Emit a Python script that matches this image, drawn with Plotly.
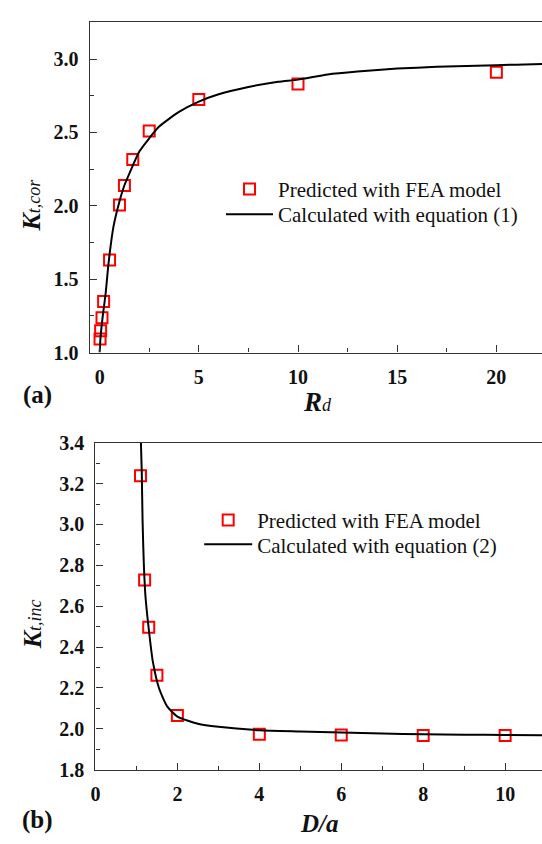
import plotly.graph_objects as go

# ---------------- Panel (a) data ----------------
rd_fea = [0.02, 0.05, 0.12, 0.2, 0.5, 1.0, 1.25, 1.67, 2.5, 5.0, 10.0, 20.0]
kcor_fea = [1.093, 1.149, 1.237, 1.348, 1.631, 2.005, 2.138, 2.315, 2.51, 2.725, 2.83, 2.91]

rd_eq = [0.0, 0.05, 0.15, 0.3, 0.45, 0.7, 1.0, 1.25, 1.5, 2.0, 2.5, 3.0, 4.0, 5.0,
         6.0, 7.5, 9.0, 10.0, 11.5, 13.0, 15.0, 17.0, 19.0, 21.0, 22.5]
kcor_eq = [1.0, 1.11, 1.24, 1.40, 1.61, 1.86, 2.03, 2.14, 2.22, 2.37, 2.46, 2.54, 2.64, 2.71,
           2.76, 2.81, 2.845, 2.86, 2.895, 2.915, 2.935, 2.947, 2.955, 2.962, 2.968]

# ---------------- Panel (b) data ----------------
da_fea = [1.1, 1.2, 1.3, 1.5, 2.0, 4.0, 6.0, 8.0, 10.0]
kinc_fea = [3.238, 2.728, 2.497, 2.262, 2.065, 1.973, 1.970, 1.967, 1.967]

da_eq = [1.11, 1.13, 1.15, 1.18, 1.22, 1.3, 1.4, 1.55, 1.75, 2.0, 2.5, 3.0, 4.0, 5.0,
         6.0, 7.0, 8.0, 9.0, 10.0, 11.0]
kinc_eq = [3.40, 3.26, 3.02, 2.81, 2.65, 2.49, 2.33, 2.20, 2.11, 2.06, 2.025, 2.01, 1.993, 1.987,
           1.982, 1.977, 1.973, 1.971, 1.970, 1.969]

legend_fea = "Predicted with FEA model"
legend_eq_a = "Calculated with equation (1)"
legend_eq_b = "Calculated with equation (2)"

W, H = 542, 844
SERIF = "Liberation Serif, Times New Roman, serif"
AX = "#333333"
TXT = "#111111"

fig = go.Figure()

marker_style = dict(symbol="square-open", size=11, color="#ff0000", line=dict(width=2, color="#ff0000"))
line_style = dict(color="black", width=2, shape="spline", smoothing=0.6)

fig.add_trace(go.Scatter(x=rd_fea, y=kcor_fea, mode="markers", marker=marker_style,
                         name=legend_fea, xaxis="x", yaxis="y", legend="legend"))
fig.add_trace(go.Scatter(x=rd_eq, y=kcor_eq, mode="lines", line=line_style,
                         name=legend_eq_a, xaxis="x", yaxis="y", legend="legend2"))
fig.add_trace(go.Scatter(x=da_fea, y=kinc_fea, mode="markers", marker=marker_style,
                         name=legend_fea, xaxis="x2", yaxis="y2", legend="legend3"))
fig.add_trace(go.Scatter(x=da_eq, y=kinc_eq, mode="lines", line=line_style,
                         name=legend_eq_b, xaxis="x2", yaxis="y2", legend="legend4"))

tickfont = dict(family=SERIF, size=20, color=TXT, weight="bold")

def axis_common():
    return dict(showline=True, linecolor=AX, linewidth=1.3, ticks="inside", ticklen=7,
                tickwidth=1.3, tickcolor=AX, tickfont=tickfont, showgrid=False, zeroline=False,
                ticklabelstandoff=6)

px = lambda v: v / W
py = lambda v: (H - v) / H

def leg(xp, yp, iw):
    return dict(x=px(xp), y=py(yp), xanchor="left", yanchor="middle", bgcolor="rgba(0,0,0,0)",
                font=dict(family=SERIF, size=21, color=TXT), itemwidth=iw)

fig.update_layout(
    width=W, height=H,
    margin=dict(l=0, r=0, t=0, b=0),
    paper_bgcolor="white", plot_bgcolor="white",
    xaxis=dict(domain=[px(85.5), 1.0], range=[-0.5, 22.3], dtick=5, anchor="y", mirror=True,
               minor=dict(dtick=2.5, ticks="inside", ticklen=4, tickwidth=1.3, tickcolor=AX),
               **axis_common()),
    yaxis=dict(domain=[py(350.7), py(11.7)], range=[1.0, 3.25], dtick=0.5, tickformat=".1f", anchor="x",
               minor=dict(dtick=0.25, ticks="inside", ticklen=4, tickwidth=1.3, tickcolor=AX),
               **axis_common()),
    xaxis2=dict(domain=[px(91.3), 1.0], range=[0, 10.9], dtick=2, anchor="y2", mirror=True,
                minor=dict(dtick=1, ticks="inside", ticklen=4, tickwidth=1.3, tickcolor=AX),
                **axis_common()),
    yaxis2=dict(domain=[py(779), py(443.3)], range=[1.8, 3.4], dtick=0.2, tickformat=".1f", anchor="x2",
                minor=dict(dtick=0.1, ticks="inside", ticklen=4, tickwidth=1.3, tickcolor=AX),
                **axis_common()),
    legend=leg(218, 183, 47),
    legend2=leg(218, 209, 47),
    legend3=leg(196, 523, 48),
    legend4=leg(196, 548, 48),
    showlegend=True,
)

ann = []
ann.append(dict(text="<b><i>K</i></b><span style='font-size:18px'><i>t,cor</i></span>", x=px(27), y=py(199),
                textangle=-90, font=dict(family=SERIF, size=26, color=TXT)))
ann.append(dict(text="<b><i>R</i></b><span style='font-size:18px'><i>d</i></span>", x=px(315), y=py(401),
                font=dict(family=SERIF, size=27, color=TXT)))
ann.append(dict(text="<b><i>K</i></b><span style='font-size:18px'><i>t,inc</i></span>", x=px(28), y=py(630),
                textangle=-90, font=dict(family=SERIF, size=26, color=TXT)))
ann.append(dict(text="<b><i>D/a</i></b>", x=px(317.5), y=py(834),
                font=dict(family=SERIF, size=25, color=TXT)))
ann.append(dict(text="<b>(a)</b>", x=px(33), y=py(394), font=dict(family=SERIF, size=25, color=TXT)))
ann.append(dict(text="<b>(b)</b>", x=px(33.3), y=py(831), font=dict(family=SERIF, size=25, color=TXT)))
for a in ann:
    a.update(xref="paper", yref="paper", showarrow=False, xanchor="center", yanchor="middle")
fig.update_layout(annotations=ann)

fig.write_html("out.html")
